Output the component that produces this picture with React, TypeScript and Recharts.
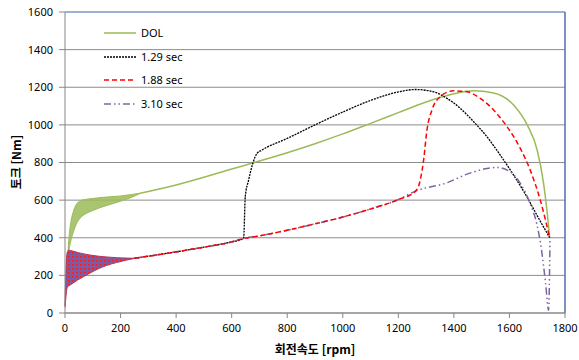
import React from "react";
import {
  ComposedChart,
  Line,
  Area,
  XAxis,
  YAxis,
  CartesianGrid,
  ReferenceLine,
} from "recharts";

// values (rpm / Nm)
const seriesNames = ["DOL", "1.29 sec", "1.88 sec", "3.10 sec"];
const xTicks = [0, 200, 400, 600, 800, 1000, 1200, 1400, 1600, 1800];
const yTicks = [0, 200, 400, 600, 800, 1000, 1200, 1400, 1600];

// DOL start-up oscillation band
const dolBandRpm = [10, 15, 22, 30, 40, 55, 75, 100, 130, 165, 200, 240, 270];
const dolBandMin = [290, 340, 390, 430, 470, 505, 528, 545, 562, 578, 594, 615, 635];
const dolBandMax = [310, 410, 490, 540, 575, 596, 604, 609, 614, 618, 622, 630, 637];

const dolRpm = [270, 300, 400, 500, 600, 700, 800, 900, 1000, 1100, 1200, 1300, 1400, 1470, 1543, 1615, 1664, 1700, 1723, 1735, 1745];
const dolTorque = [637, 646, 680, 722, 765, 808, 852, 900, 952, 1008, 1065, 1122, 1165, 1182, 1170, 1106, 1000, 865, 688, 546, 400];

// soft-start oscillation band (shared by the three soft-start runs)
const lowBandRpm = [0, 3, 8, 14, 20, 30, 45, 65, 90, 120, 150, 185, 220, 250];
const lowBandMin = [30, 80, 135, 145, 150, 160, 175, 192, 212, 235, 253, 268, 281, 290];
const lowBandMax = [40, 210, 322, 334, 332, 328, 322, 315, 308, 302, 298, 294, 292, 291];

// shared ramp before bypass
const rampRpm = [250, 300, 400, 500, 600, 643, 700, 800, 900, 1000, 1100, 1200, 1262];
const rampTorque = [291, 302, 325, 350, 378, 396, 410, 440, 474, 510, 553, 603, 648];

const t129Rpm = [649, 661, 676, 691, 709, 800, 900, 1000, 1100, 1200, 1260, 1327, 1375, 1423, 1471, 1519, 1567, 1615, 1663, 1699, 1745];
const t129Torque = [619, 706, 795, 848, 866, 928, 1000, 1068, 1130, 1175, 1188, 1176, 1141, 1088, 1017, 937, 839, 733, 617, 520, 400];

const t188Rpm = [1279, 1291, 1303, 1321, 1351, 1399, 1447, 1495, 1543, 1591, 1639, 1675, 1711, 1745];
const t188Torque = [707, 813, 972, 1079, 1150, 1181, 1176, 1141, 1079, 991, 875, 759, 600, 400];

const t310Rpm = [1375, 1447, 1519, 1555, 1603, 1639, 1675, 1699, 1715, 1730, 1741, 1746];
const t310Torque = [692, 738, 768, 774, 750, 689, 580, 470, 340, 160, 15, 400];

type Pt = { rpm: number; torque: number };
const toPoints = (xs: number[], ys: number[]): Pt[] => xs.map((rpm, i) => ({ rpm, torque: ys[i] }));
const toBand = (xs: number[], lo: number[], hi: number[]) =>
  xs.map((rpm, i) => ({ rpm, range: [lo[i], hi[i]] }));

const ramp = toPoints(rampRpm, rampTorque);
const dolData = toPoints(dolRpm, dolTorque);
const t129Data = [...ramp.filter((p) => p.rpm <= 643), ...toPoints(t129Rpm, t129Torque)];
const t188Data = [...ramp, ...toPoints(t188Rpm, t188Torque)];
const t310Data = [...ramp, ...toPoints(t310Rpm, t310Torque)];
const dolBand = toBand(dolBandRpm, dolBandMin, dolBandMax);
const lowBand = toBand(lowBandRpm, lowBandMin, lowBandMax);

const styles = [
  { color: "#9bbb59", dash: undefined, width: 1.5 },
  { color: "#000000", dash: "2 1", width: 1.3 },
  { color: "#ff0000", dash: "5 3", width: 1.5 },
  { color: "#8064a2", dash: "7 3 1.5 3 1.5 3", width: 1.5 },
];

const tickStyle = { fontSize: 11, fill: "#000", fontFamily: "'Noto Sans', sans-serif" };

function LegendBox(): React.ReactElement {
  return (
    <div
      style={{
        position: "absolute",
        left: 104,
        top: 21,
        fontFamily: "'Noto Sans', sans-serif",
        fontSize: 11,
        lineHeight: "14px",
        color: "#000",
      }}
    >
      {seriesNames.map((name, i) => (
        <div key={name} style={{ display: "flex", alignItems: "center", height: 23.7 }}>
          <svg width={34} height={10} style={{ marginRight: 3 }}>
            <line
              x1={0}
              y1={5}
              x2={32}
              y2={5}
              stroke={styles[i].color}
              strokeWidth={styles[i].width}
              strokeDasharray={styles[i].dash}
            />
          </svg>
          <span>{name}</span>
        </div>
      ))}
    </div>
  );
}

export default function App(): React.ReactElement {
  return (
    <div style={{ position: "absolute", left: 0, top: 0, width: 579, height: 360, background: "#fff" }}>
      <ComposedChart width={579} height={360} margin={{ top: 12, right: 14, bottom: 0, left: 0 }}>
        <defs>
          <pattern id="lowBandFill" width="4" height="4" patternUnits="userSpaceOnUse">
            <rect width="4" height="4" fill="#7d5ba3" />
            <rect x="0" y="0" width="1.6" height="1.6" fill="#ff1a1a" />
          </pattern>
        </defs>
        <CartesianGrid vertical={false} stroke="#8c8c8c" />
        <XAxis
          type="number"
          dataKey="rpm"
          domain={[0, 1800]}
          ticks={xTicks}
          height={47}
          tick={tickStyle}
          tickSize={5}
          tickMargin={6}
          stroke="#868686"
          allowDuplicatedCategory={false}
        />
        <YAxis
          type="number"
          domain={[0, 1600]}
          ticks={yTicks}
          width={65}
          tick={tickStyle}
          tickSize={6}
          tickMargin={6}
          stroke="#868686"
        />
        <ReferenceLine y={1600} stroke="#8eaadb" strokeWidth={1.5} />
        <ReferenceLine x={1800} stroke="#4f6fa8" strokeWidth={1.5} />
        <Area
          data={dolBand}
          dataKey="range"
          type="monotone"
          stroke="#9bbb59"
          strokeWidth={1}
          fill="#9bbb59"
          fillOpacity={0.85}
          isAnimationActive={false}
          dot={false}
          activeDot={false}
          legendType="none"
        />
        <Area
          data={lowBand}
          dataKey="range"
          type="monotone"
          stroke="#c0304a"
          strokeWidth={1}
          fill="url(#lowBandFill)"
          fillOpacity={1}
          isAnimationActive={false}
          dot={false}
          activeDot={false}
          legendType="none"
        />
        {[dolData, t129Data, t310Data, t188Data].map((d, k) => {
          const idx = [0, 1, 3, 2][k];
          return (
            <Line
              key={seriesNames[idx]}
              data={d}
              dataKey="torque"
              name={seriesNames[idx]}
              type="monotone"
              stroke={styles[idx].color}
              strokeWidth={styles[idx].width}
              strokeDasharray={styles[idx].dash}
              dot={false}
              activeDot={false}
              isAnimationActive={false}
            />
          );
        })}
      </ComposedChart>
      <LegendBox />
      <div
        style={{
          position: "absolute",
          left: 250,
          top: 340,
          width: 130,
          textAlign: "center",
          fontFamily: "'Noto Sans CJK KR', sans-serif",
          fontWeight: "bold",
          fontSize: 12,
          color: "#000",
        }}
      >
        회전속도 [rpm]
      </div>
      <div
        style={{
          position: "absolute",
          left: 15,
          top: 162,
          transform: "translate(-50%, -50%) rotate(-90deg)",
          whiteSpace: "nowrap",
          fontFamily: "'Noto Sans CJK KR', sans-serif",
          fontWeight: "bold",
          fontSize: 12,
          color: "#000",
        }}
      >
        토크 [Nm]
      </div>
    </div>
  );
}
